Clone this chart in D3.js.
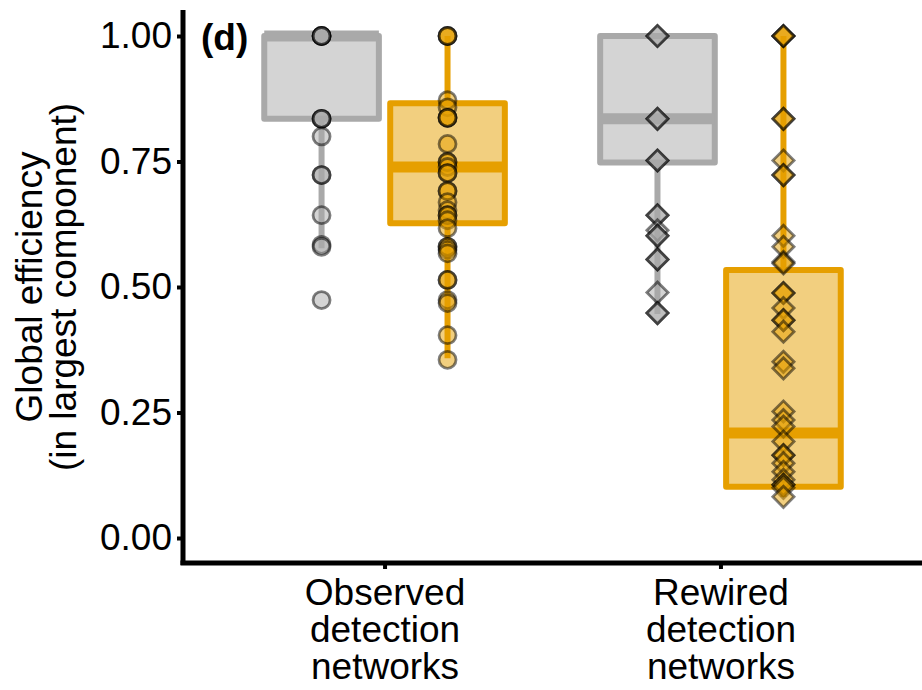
<!DOCTYPE html>
<html>
<head>
<meta charset="utf-8">
<script src="https://cdn.jsdelivr.net/npm/d3@7"></script>
<style>
  body { margin: 0; background: #fff; }
  text { font-family: "Liberation Sans", Arial, sans-serif; }
</style>
</head>
<body>
<div id="chart"></div>
<script>
const categories = ['Observed\ndetection\nnetworks', 'Rewired\ndetection\nnetworks'];
const groups = ['grey', 'orange'];
const yTicks = [0, 0.25, 0.5, 0.75, 1];

// box stats per category x group: [whiskerLow, q1, median, q3, whiskerHigh]
const boxObservedGrey = [0.577, 0.835, 1.0, 1.0, 1.0];
const boxObservedOrange = [0.358, 0.627, 0.739, 0.866, 1.0];
const boxRewiredGrey = [0.446, 0.748, 0.835, 1.0, 1.0];
const boxRewiredOrange = [0.082, 0.102, 0.209, 0.534, 1.0];

// individual networks (repeats = overlapping points)
const ptsObservedGrey = [1, 1, 1, 1, 0.835, 0.835, 0.835, 0.80, 0.723, 0.723, 0.643, 0.584, 0.58, 0.474];
const ptsObservedOrange = [1, 1, 1, 0.872, 0.858, 0.837, 0.837, 0.837, 0.785, 0.749, 0.749, 0.739, 0.727, 0.727,
  0.691, 0.691, 0.669, 0.653, 0.643, 0.643, 0.633, 0.617, 0.58, 0.58, 0.574, 0.567, 0.514, 0.514,
  0.474, 0.468, 0.404, 0.355];
const ptsRewiredGrey = [1, 1, 0.835, 0.835, 0.752, 0.752, 0.643, 0.643, 0.613, 0.602, 0.602, 0.555, 0.555, 0.489, 0.448, 0.448];
const ptsRewiredOrange = [1, 1, 1, 0.835, 0.835, 0.752, 0.723, 0.723, 0.602, 0.58, 0.55, 0.547, 0.488, 0.488,
  0.458, 0.434, 0.434, 0.411, 0.351, 0.338, 0.252, 0.235, 0.222, 0.192, 0.165, 0.165, 0.149, 0.132,
  0.116, 0.106, 0.106, 0.1, 0.082];

const boxes = [
  { cat: categories[0], grp: 'grey', stats: boxObservedGrey, pts: ptsObservedGrey, shape: 'circle' },
  { cat: categories[0], grp: 'orange', stats: boxObservedOrange, pts: ptsObservedOrange, shape: 'circle' },
  { cat: categories[1], grp: 'grey', stats: boxRewiredGrey, pts: ptsRewiredGrey, shape: 'diamond' },
  { cat: categories[1], grp: 'orange', stats: boxRewiredOrange, pts: ptsRewiredOrange, shape: 'diamond' }
];

const colour = { grey: '#a9a9a9', orange: '#e69f00' };

const width = 922, height = 690;
const margin = { top: 10, right: 0, bottom: 127, left: 183 };
const fontSize = 37;

const svg = d3.select('#chart').append('svg')
  .attr('width', width)
  .attr('height', height);

const x = d3.scalePoint()
  .domain(categories)
  .range([margin.left, width - margin.right])
  .padding(0.6);

const xSub = d3.scaleBand()
  .domain(groups)
  .range([-x.step() * 0.375, x.step() * 0.375]);

const y = d3.scaleLinear()
  .domain([0, 1])
  .range([538, 36]);

const boxW = xSub.bandwidth() * 0.91;

const g = svg.append('g');

boxes.forEach(b => {
  const cx = x(b.cat) + xSub(b.grp) + xSub.bandwidth() / 2;
  const [lo, q1, med, q3, hi] = b.stats;
  const col = colour[b.grp];

  // whiskers
  g.append('line').attr('x1', cx).attr('x2', cx).attr('y1', y(q3)).attr('y2', y(hi))
    .attr('stroke', col).attr('stroke-width', 6);
  g.append('line').attr('x1', cx).attr('x2', cx).attr('y1', y(q1)).attr('y2', y(lo))
    .attr('stroke', col).attr('stroke-width', 6);

  // box
  g.append('rect')
    .attr('x', cx - boxW / 2).attr('width', boxW)
    .attr('y', y(q3)).attr('height', y(q1) - y(q3))
    .attr('fill', col).attr('fill-opacity', 0.5)
    .attr('stroke', col).attr('stroke-width', 6)
    .attr('stroke-linejoin', 'round');

  // median
  g.append('line')
    .attr('x1', cx - boxW / 2).attr('x2', cx + boxW / 2)
    .attr('y1', y(med)).attr('y2', y(med))
    .attr('stroke', col).attr('stroke-width', 11);
});

// points on top
boxes.forEach(b => {
  const cx = x(b.cat) + xSub(b.grp) + xSub.bandwidth() / 2;
  const col = colour[b.grp];
  const sym = b.shape === 'circle'
    ? d3.symbol(d3.symbolCircle, Math.PI * 8.5 * 8.5)
    : d3.symbol(d3.symbolSquare, 15 * 15);
  g.append('g').selectAll('path')
    .data(b.pts)
    .join('path')
    .attr('d', sym)
    .attr('transform', d => `translate(${cx},${y(d)})` + (b.shape === 'diamond' ? ' rotate(45)' : ''))
    .attr('fill', col).attr('fill-opacity', 0.5)
    .attr('stroke', '#000').attr('stroke-opacity', 0.5)
    .attr('stroke-width', 2.8);
});

// y axis
const yAxis = svg.append('g')
  .attr('transform', `translate(${margin.left},0)`)
  .call(d3.axisLeft(y).tickValues(yTicks).tickFormat(d3.format('.2f')).tickSize(6).tickPadding(5));
yAxis.select('.domain').remove();
yAxis.append('line').attr('x1', 0).attr('x2', 0).attr('y1', 10).attr('y2', 565)
  .attr('stroke', '#000').attr('stroke-width', 5);
yAxis.selectAll('.tick line').attr('stroke', '#000').attr('stroke-width', 4);
yAxis.selectAll('.tick text').attr('fill', '#000').attr('font-size', fontSize)
  .attr('font-family', '"Liberation Sans", Arial, sans-serif');

// x axis
const xAxis = svg.append('g')
  .attr('transform', `translate(0,563)`)
  .call(d3.axisBottom(x).tickSize(6).tickFormat(''));
xAxis.select('.domain').remove();
xAxis.append('line').attr('x1', margin.left - 2.5).attr('x2', width).attr('y1', 0).attr('y2', 0)
  .attr('stroke', '#000').attr('stroke-width', 5);
xAxis.selectAll('.tick line').attr('stroke', '#000').attr('stroke-width', 4);
xAxis.selectAll('.tick').append('text')
  .attr('fill', '#000')
  .attr('font-size', fontSize)
  .attr('font-family', '"Liberation Sans", Arial, sans-serif')
  .attr('text-anchor', 'middle')
  .selectAll('tspan')
  .data(d => d.split('\n'))
  .join('tspan')
  .attr('x', 0)
  .attr('y', (d, i) => 42 + i * 37)
  .text(d => d);

// y title
const yTitle = svg.append('text')
  .attr('transform', `translate(0,${(y(0) + y(1)) / 2}) rotate(-90)`)
  .attr('text-anchor', 'middle')
  .attr('font-size', fontSize)
  .attr('fill', '#000');
yTitle.append('tspan').attr('x', 0).attr('y', 42).text('Global efficiency');
yTitle.append('tspan').attr('x', 0).attr('y', 76).text('(in largest component)');

// panel tag
svg.append('text')
  .attr('x', 201).attr('y', 50)
  .attr('font-size', fontSize).attr('font-weight', 'bold')
  .attr('fill', '#000')
  .text('(d)');
</script>
</body>
</html>
